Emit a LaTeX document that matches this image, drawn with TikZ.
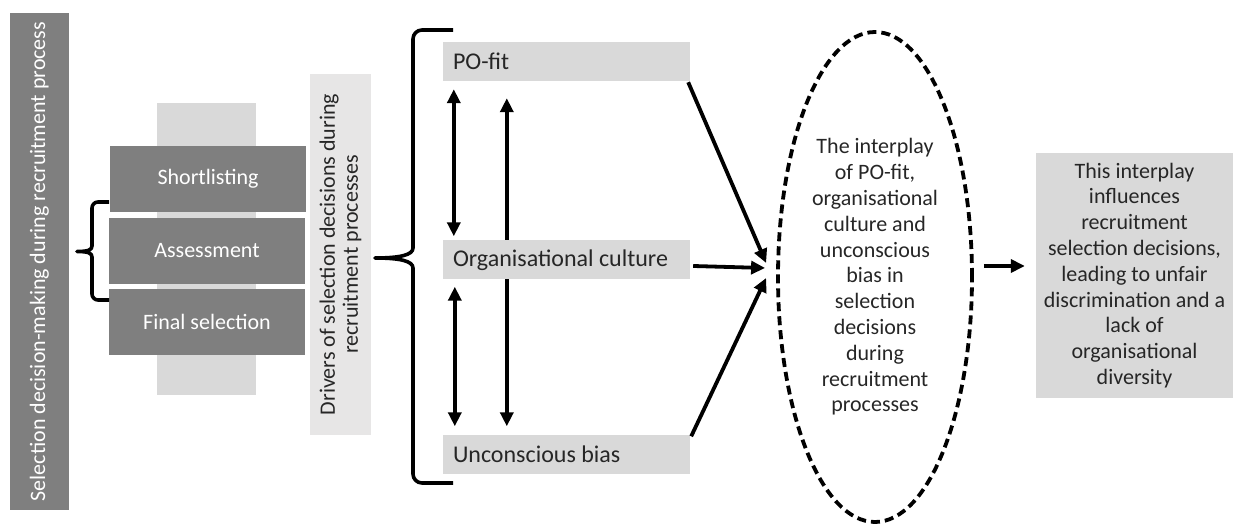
\documentclass[tikz,border=0pt]{standalone}
\usepackage{fontspec}
\setmainfont{Carlito}
\usetikzlibrary{arrows.meta,backgrounds,shapes.geometric}
\definecolor{darkg}{HTML}{7F7F7F}
\definecolor{lightg}{HTML}{D9D9D9}
\definecolor{drivg}{HTML}{E7E6E6}
\definecolor{txt}{HTML}{262626}
\tikzset{
  darkbox/.style={fill=darkg, text=white, minimum width=196pt, minimum height=66pt, inner sep=0pt},
  pobox/.style={fill=lightg, minimum width=247pt, minimum height=39pt, inner sep=0pt},
  polabel/.style={anchor=west, text=txt, inner sep=0pt, font=\fontsize{24}{28}\selectfont},
  arr/.style={line width=3.8pt, -{Triangle[length=14pt,width=13pt]}},
  dbl/.style={line width=3.8pt, {Triangle[length=14pt,width=13pt]}-{Triangle[length=14pt,width=13pt]}},
  bracepath/.style={line width=3.6pt, line join=round}
}
\begin{document}
\begin{tikzpicture}[x=1pt,y=-1pt,font=\fontsize{22}{25.8}\selectfont]
\useasboundingbox (0,0) rectangle (1233,526);
% left bar
\node[fill=darkg, text=white, rotate=90, minimum width=497pt, minimum height=59pt, inner sep=0pt] (bar) at (39.5,261.5) {Selection decision-making during recruitment process};
% background light rectangle
\node[fill=lightg, minimum width=99pt, minimum height=292pt, inner sep=0pt] (bg) at (206.5,249) {};
% stage boxes
\node[darkbox] (short) at (208,179) {Shortlisting};
\node[darkbox] (assess) at (207,251) {Assessment};
\node[darkbox] (final) at (207,322) {Final selection};
% small brace
\draw[bracepath] (109,202) -- (98,202) to[out=180,in=90] (92,208) -- (92,246) .. controls (92,250) and (88,251.5) .. (77,251.5) .. controls (88,251.5) and (92,253) .. (92,257) -- (92,294) to[out=-90,in=180] (98,300) -- (109,300);
% drivers box
\node[fill=drivg, text=txt, rotate=90, minimum width=361pt, minimum height=61pt, inner sep=0pt, align=center, font=\fontsize{22}{23}\selectfont] (drivers) at (340.5,254.5) {Drivers of selection decisions during\\recruitment processes};
% big brace
\draw[bracepath] (453,30) -- (422,30) to[out=180,in=90] (413,39) -- (413,248) .. controls (413,255) and (400,258) .. (375,258) .. controls (400,258) and (413,261) .. (413,268) -- (413,474) to[out=-90,in=180] (422,483) -- (453,483);
% driver boxes
\node[pobox] (po) at (566.5,61.5) {};
\node[pobox] (org) at (566.5,260) {};
\node[pobox] (ub) at (566.5,454) {};
\node[polabel] (pol) at ([xshift=10pt]po.west) {PO-fit};
\node[polabel] (orgl) at ([xshift=10pt]org.west) {Organisational culture};
\node[polabel] (ubl) at ([xshift=10pt]ub.west) {Unconscious bias};
% ellipse
\node[ellipse, draw, line width=3.8pt, dash pattern=on 9pt off 5pt, minimum width=194pt, minimum height=490pt, inner sep=0pt, align=center, text=txt] (ell) at (875,277) {The interplay\\of PO-fit,\\organisational\\culture and\\unconscious\\bias in\\selection\\decisions\\during\\recruitment\\processes};
% result box
\node[fill=lightg, text=txt, minimum width=197pt, minimum height=245pt, inner sep=0pt, align=center] (res) at (1134.5,275.5) {This interplay\\influences\\recruitment\\selection decisions,\\leading to unfair\\discrimination and a\\lack of\\organisational\\diversity};
% arrows
\begin{pgfonlayer}{background}
\draw[dbl] ([xshift=11pt,yshift=-8pt]po.south west) -- ([xshift=11pt,yshift=4pt]org.north west);
\draw[dbl] ([xshift=64pt,yshift=-17pt]po.south west) -- ([xshift=64pt,yshift=8pt]ub.north west);
\draw[dbl] ([xshift=12pt,yshift=-7pt]org.south west) -- ([xshift=12pt,yshift=8pt]ub.north west);
\end{pgfonlayer}
\draw[arr] ([xshift=-2pt,yshift=-1pt]po.south east) -- ([xshift=-10pt,yshift=14pt]ell.west);
\draw[arr] ([xshift=3pt,yshift=-6pt]org.east) -- ([xshift=-11pt,yshift=9pt]ell.west);
\draw[arr] ([xshift=1pt,yshift=-2pt]ub.north east) -- ([xshift=-10pt,yshift=-1pt]ell.west);
\draw[arr] ([xshift=10pt,yshift=11pt]ell.east) -- ([xshift=-11pt,yshift=9.5pt]res.west);
\end{tikzpicture}
\end{document}
